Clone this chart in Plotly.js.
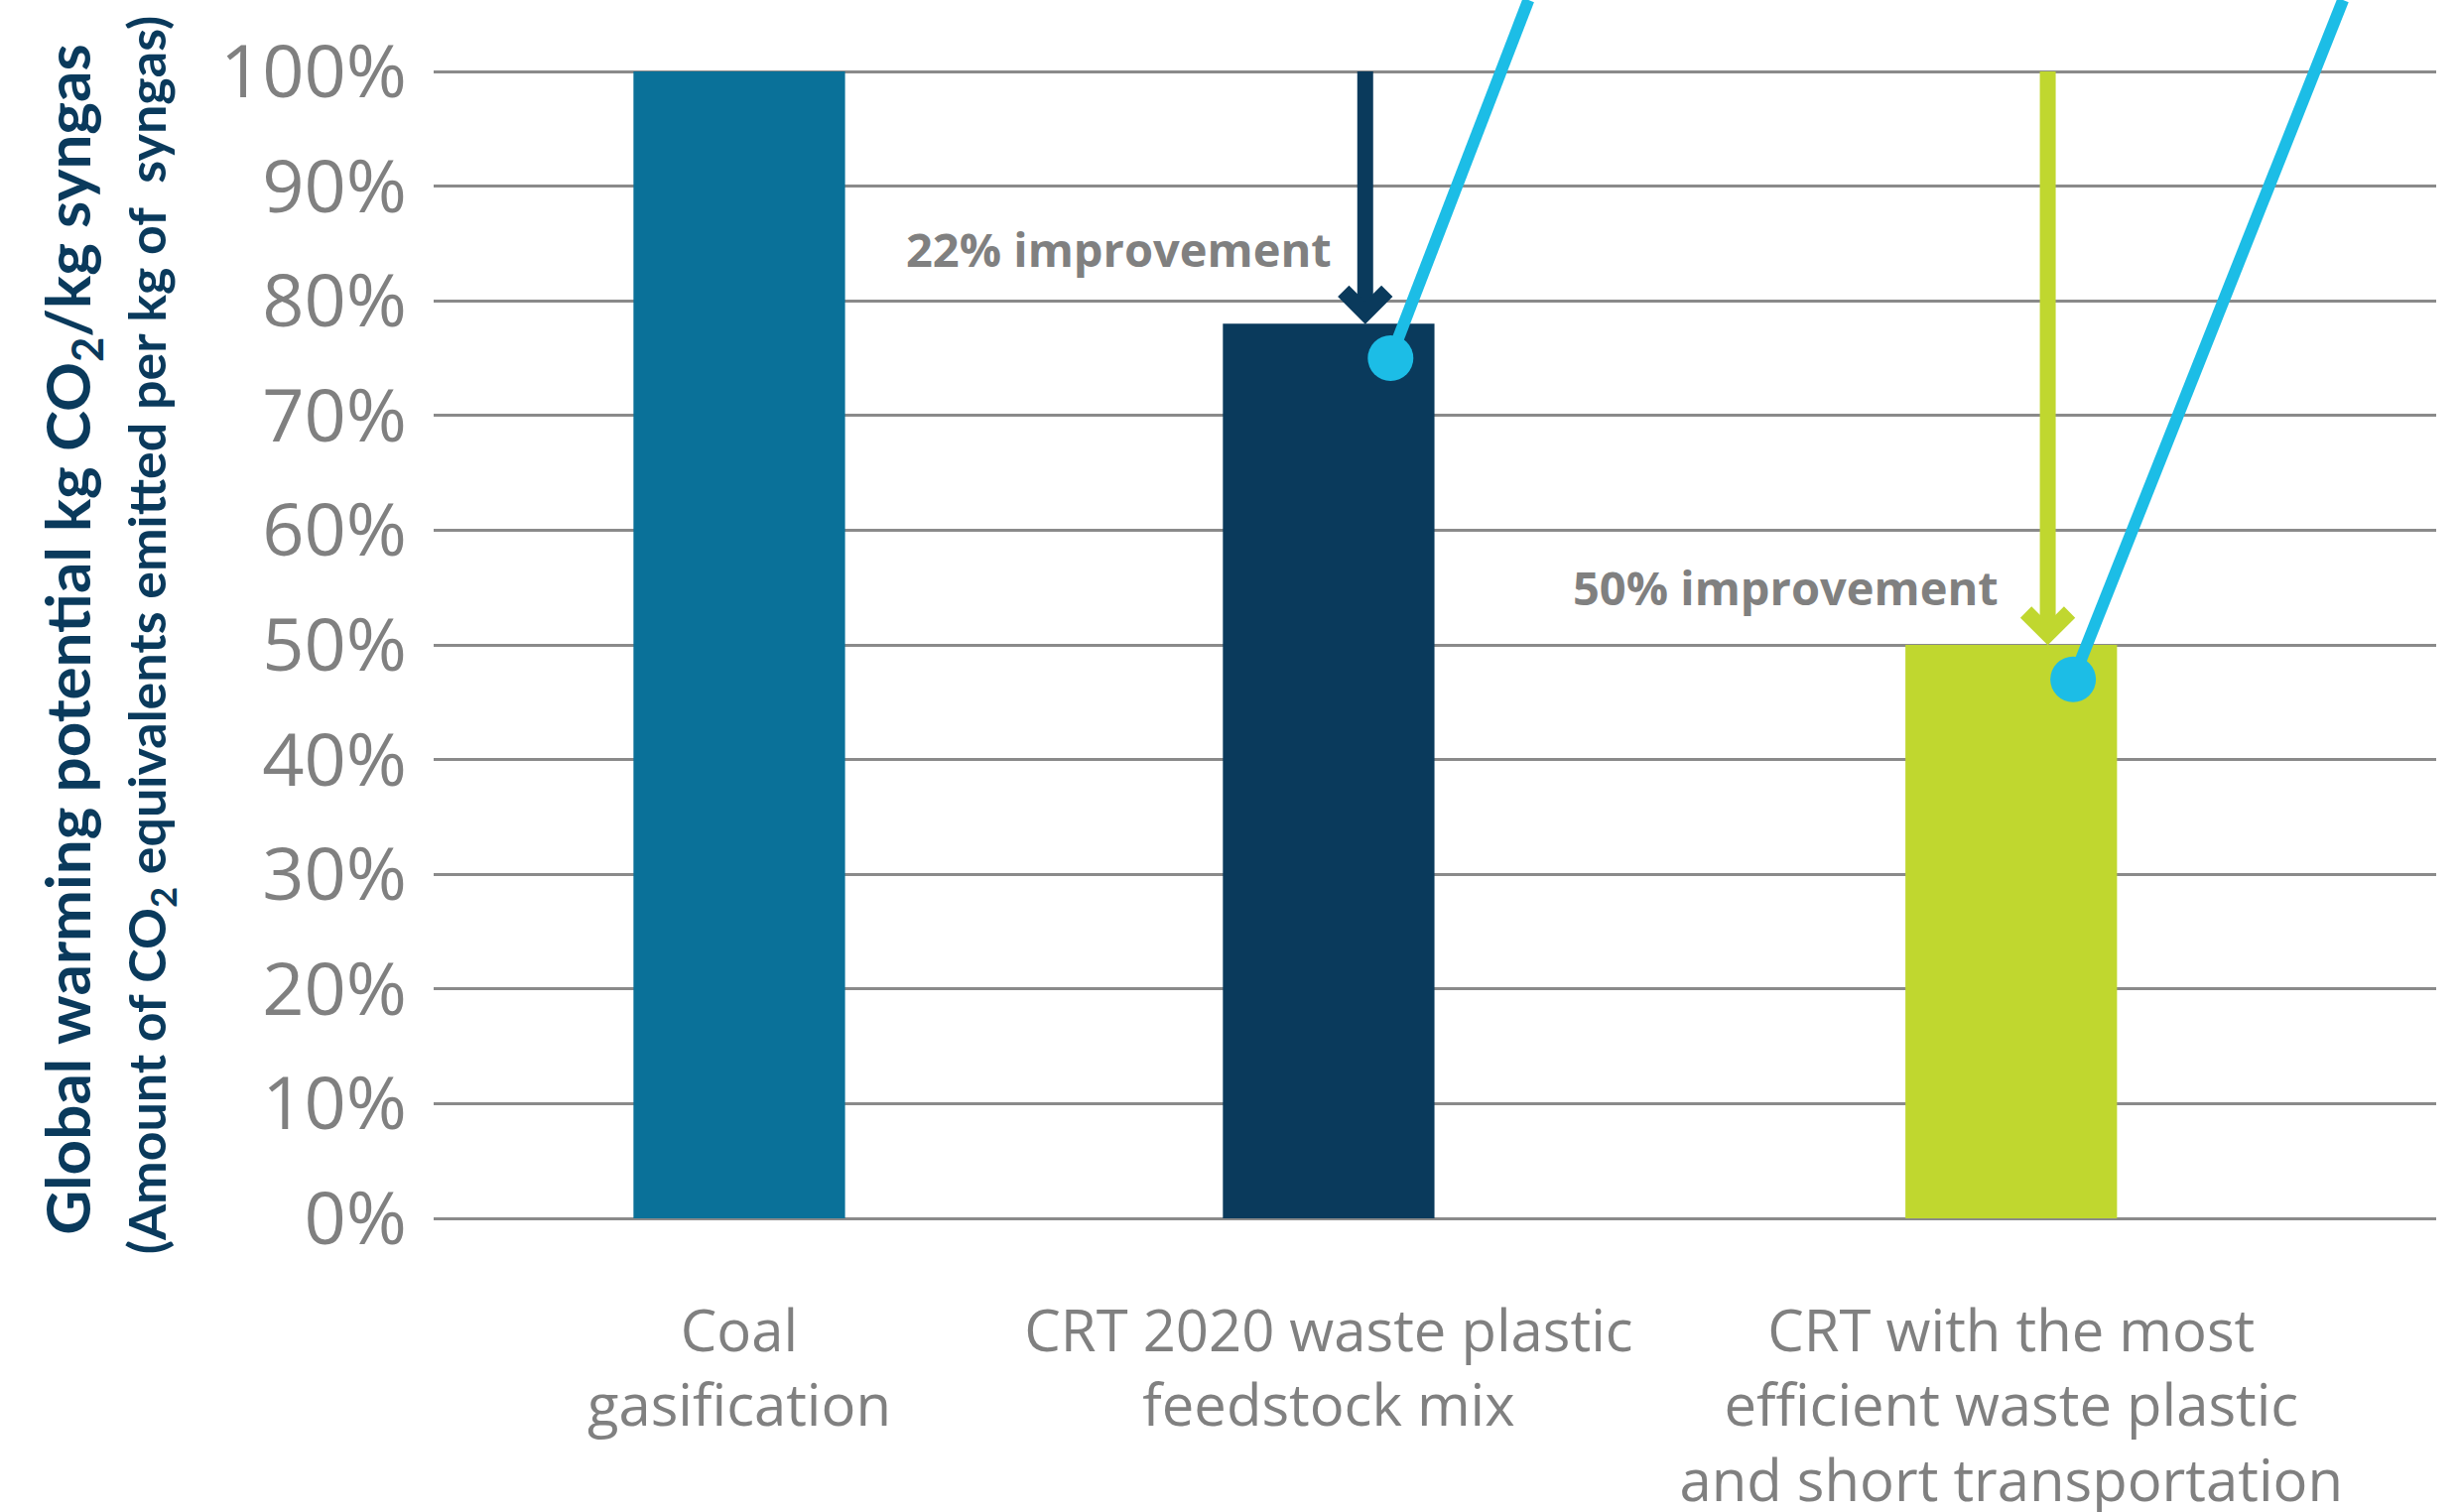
<!DOCTYPE html>
<html>
<head>
<meta charset="utf-8">
<script src="https://cdn.plot.ly/plotly-3.0.1.min.js"></script>
<style>html,body{margin:0;padding:0;background:#fff;}#chart{width:2480px;height:1524px;}</style>
</head>
<body>
<div id="chart"></div>
<script>
// ---- data ----
const categories = [
  'Coal<br>gasification',
  'CRT 2020 waste plastic<br>feedstock mix',
  'CRT with the most<br>efficient waste plastic<br>and short transportation'
];
const values = [100, 78, 50];               // % of coal gasification GWP
const improvementLabels = ['', '22% improvement', '50% improvement'];
const yTickVals = [0, 10, 20, 30, 40, 50, 60, 70, 80, 90, 100];
const yTickText = ['0%', '10%', '20%', '30%', '40%', '50%', '60%', '70%', '80%', '90%', '100%'];
const titleLine1 = 'Global warming potential kg CO<sub>2</sub>/kg syngas';
const titleLine2 = '(Amount of CO<sub>2</sub> equivalents emitted per kg of  syngas)';

// ---- layout / style constants ----
const barPos = [0, 1, 2.158];
const barColors = ['#0a7199', '#0a3a5c', '#c0d72f'];
const arrowColors = [null, '#0a3a5c', '#c0d72f'];
const cyan = '#1cbde6';
const gray = '#808080';
const yTop = 106.23;
const leaderTopOffset = [0, 0.234, 0.458];
const labelYOffset = [0, 6.5, 5.0];
const labelXShift = [0, -32, -48];

const shapes = [];
const annotations = [];
for (let i = 1; i < values.length; i++) {
  const ax = barPos[i] + 0.062;
  // arrow shaft
  shapes.push({type: 'line', xref: 'x', yref: 'y', x0: ax, x1: ax, y0: 100, y1: values[i] + 1.2,
    line: {color: arrowColors[i], width: 16}, layer: 'above'});
  // chevron head
  shapes.push({type: 'path', xref: 'x', yref: 'y', xsizemode: 'pixel', ysizemode: 'pixel',
    xanchor: ax, yanchor: values[i], path: 'M -22,33 L 0,11 L 22,33',
    line: {color: arrowColors[i], width: 16}, layer: 'above'});
  // cyan leader line + dot
  const dx = barPos[i] + 0.105, dy = values[i] - 3;
  shapes.push({type: 'line', xref: 'x', yref: 'y', x0: dx, y0: dy, x1: dx + leaderTopOffset[i], y1: yTop,
    line: {color: cyan, width: 12}, layer: 'above'});
  shapes.push({type: 'circle', xref: 'x', yref: 'y', xsizemode: 'pixel', ysizemode: 'pixel',
    xanchor: dx, yanchor: dy, x0: -23, x1: 23, y0: -23, y1: 23,
    fillcolor: cyan, line: {width: 0}, layer: 'above'});
  annotations.push({xref: 'x', yref: 'y', x: ax, y: values[i] + labelYOffset[i], xanchor: 'right', yanchor: 'middle',
    xshift: labelXShift[i], text: '<b>' + improvementLabels[i] + '</b>', showarrow: false,
    font: {family: 'Open Sans, sans-serif', size: 47, color: gray}});
}
annotations.push({xref: 'paper', yref: 'paper', x: -0.181, y: 0.4756, xanchor: 'center', yanchor: 'middle',
  textangle: -90, showarrow: false, text: '<b>' + titleLine1 + '</b>',
  font: {family: 'Lato, Open Sans, sans-serif', size: 62, color: '#0a3a5c'}});
annotations.push({xref: 'paper', yref: 'paper', x: -0.142, y: 0.479, xanchor: 'center', yanchor: 'middle',
  textangle: -90, showarrow: false, text: '<b>' + titleLine2 + '</b>',
  font: {family: 'Lato, Open Sans, sans-serif', size: 52, color: '#0a3a5c'}});

const trace = {
  type: 'bar',
  x: barPos,
  y: values,
  width: 0.359,
  marker: {color: barColors, line: {width: 0}},
  hoverinfo: 'skip'
};

const layout = {
  width: 2480, height: 1524,
  margin: {l: 437, r: 25, t: 0, b: 296},
  paper_bgcolor: '#ffffff', plot_bgcolor: '#ffffff',
  showlegend: false,
  xaxis: {
    range: [-0.5185, 2.879], tickmode: 'array', tickvals: barPos, ticktext: categories,
    showgrid: false, zeroline: false, showline: false, ticks: '',
    tickfont: {family: 'Open Sans, sans-serif', size: 58, color: gray},
    ticklabelstandoff: 75
  },
  yaxis: {
    range: [0, yTop], tickmode: 'array', tickvals: yTickVals, ticktext: yTickText,
    showgrid: true, gridcolor: '#8a8a8a', gridwidth: 3,
    zeroline: true, zerolinecolor: '#8a8a8a', zerolinewidth: 3,
    showline: false, ticks: '',
    tickfont: {family: 'Open Sans, sans-serif', size: 74, color: gray},
    ticklabelstandoff: 26
  },
  shapes: shapes,
  annotations: annotations
};

Plotly.newPlot('chart', [trace], layout, {staticPlot: true, displayModeBar: false});
</script>
</body>
</html>
